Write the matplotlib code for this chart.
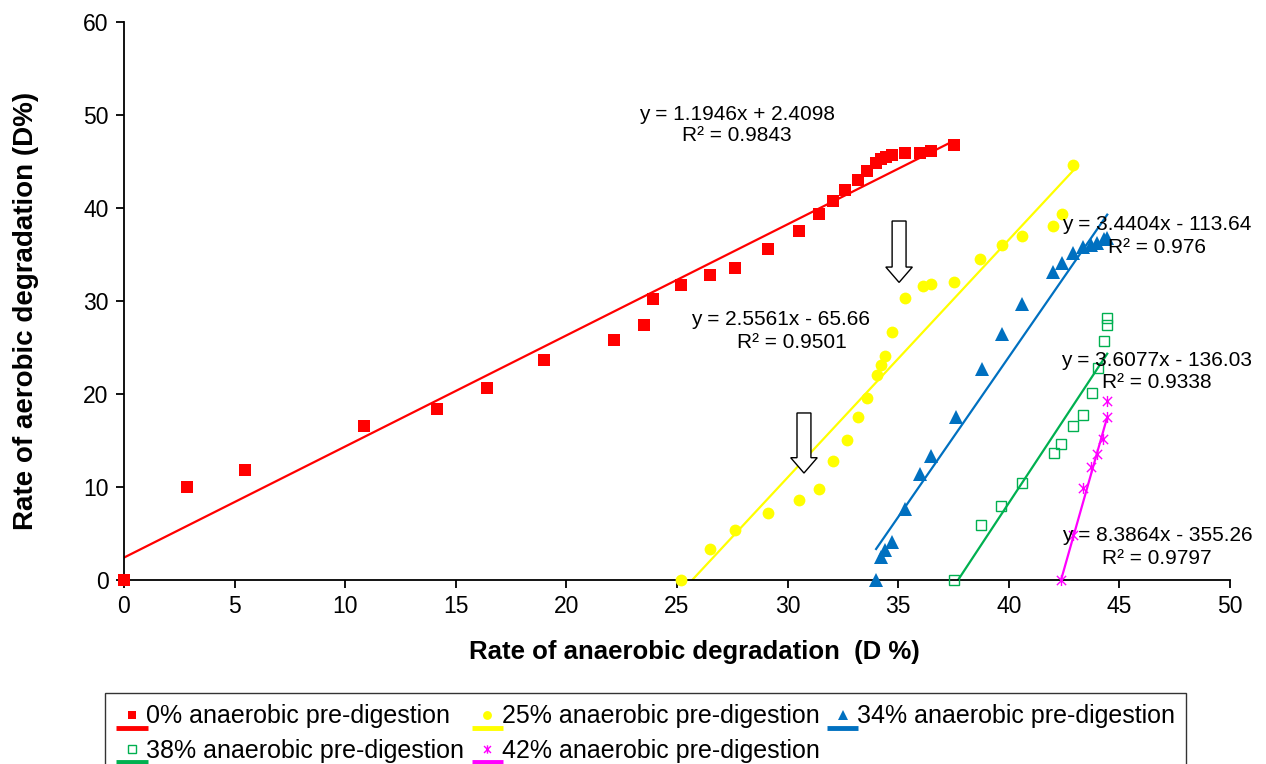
import matplotlib
matplotlib.use("Agg")
import matplotlib.pyplot as plt
import numpy as np
from matplotlib.lines import Line2D
from matplotlib.legend_handler import HandlerBase
from matplotlib.patches import FancyArrow
from matplotlib.path import Path

plt.rcParams['font.family'] = ['Liberation Sans', 'DejaVu Sans']

# ---------------- data ----------------
labels = ["0% anaerobic pre-digestion", "25% anaerobic pre-digestion",
          "34% anaerobic pre-digestion", "38% anaerobic pre-digestion",
          "42% anaerobic pre-digestion"]

x0 = [0, 2.85, 5.47, 10.85, 14.15, 16.4, 19.0, 22.15, 23.5, 23.9, 25.2, 26.5, 27.6,
      29.1, 30.5, 31.4, 32.05, 32.6, 33.2, 33.6, 34.0, 34.2, 34.45, 34.7, 35.3, 36.0,
      36.5, 37.5]
y0 = [0, 10.0, 11.8, 16.6, 18.4, 20.6, 23.7, 25.8, 27.4, 30.2, 31.7, 32.8, 33.5,
      35.6, 37.5, 39.4, 40.8, 41.9, 43.0, 44.0, 44.8, 45.3, 45.5, 45.7, 45.9, 45.9,
      46.1, 46.8]

x25 = [25.2, 26.5, 27.6, 29.1, 30.5, 31.4, 32.05, 32.7, 33.2, 33.6, 34.05, 34.2, 34.4,
       34.7, 35.3, 36.1, 36.5, 37.5, 38.7, 39.7, 40.6, 42.0, 42.4, 42.9]
y25 = [0, 3.3, 5.4, 7.2, 8.6, 9.8, 12.8, 15.1, 17.5, 19.6, 22.0, 23.1, 24.1,
       26.7, 30.3, 31.6, 31.8, 32.0, 34.5, 36.0, 37.0, 38.1, 39.4, 44.6]

x34 = [34.0, 34.2, 34.4, 34.7, 35.3, 36.0, 36.5, 37.6, 38.8, 39.7, 40.6, 42.0, 42.4,
       42.9, 43.35, 43.7, 44.0, 44.3, 44.45]
y34 = [0, 2.5, 3.2, 4.1, 7.6, 11.4, 13.3, 17.5, 22.7, 26.5, 29.7, 33.1, 34.1,
       35.2, 35.8, 36.0, 36.2, 36.7, 36.8]

x38 = [37.5, 38.75, 39.65, 40.6, 42.05, 42.35, 42.9, 43.35, 43.75, 44.05, 44.3, 44.45, 44.45]
y38 = [0, 5.9, 8.0, 10.4, 13.7, 14.6, 16.6, 17.7, 20.1, 22.8, 25.7, 27.4, 28.2]

x42 = [42.35, 42.9, 43.35, 43.7, 44.0, 44.25, 44.45, 44.45]
y42 = [0, 4.8, 9.9, 12.2, 13.5, 15.2, 17.5, 19.3]

slopes = [1.1946, 2.5561, 3.4404, 3.6077, 8.3864]
intercepts = [2.4098, -65.66, -113.64, -136.03, -355.26]
r2 = ["0.9843", "0.9501", "0.976", "0.9338", "0.9797"]
eq_texts = ["y = 1.1946x + 2.4098", "y = 2.5561x - 65.66", "y = 3.4404x - 113.64",
            "y = 3.6077x - 136.03", "y = 8.3864x - 355.26"]

xs = [x0, x25, x34, x38, x42]
ys = [y0, y25, y34, y38, y42]

# ---------------- style ----------------
colors = ["#FF0000", "#FFFF00", "#0070C0", "#00B050", "#FF00FF"]
star = Path([(-1, -1), (1, 1), (-1, 1), (1, -1), (0, -1.2), (0, 1.2)],
            [Path.MOVETO, Path.LINETO, Path.MOVETO, Path.LINETO, Path.MOVETO, Path.LINETO])
markers = ["s", "o", "^", "s", star]
msizes = [8.5, 8.5, 9.5, 7.5, 8]
mfaces = ["#FF0000", "#FFFF00", "#0070C0", "none", "#FF00FF"]
medges = ["#FF0000", "#FFFF00", "#0070C0", "#00B050", "#FF00FF"]
mews = [0, 0, 0, 1.0, 1.0]

# equation label positions (data coords, centers)
eq_pos = [(27.7, 50.1), (29.66, 28.06), (46.7, 38.2), (46.7, 23.6), (46.7, 4.8)]
r2_pos = [(27.7, 47.8), (30.2, 25.5), (46.7, 35.7), (46.7, 21.2), (46.7, 2.3)]

fig = plt.figure(figsize=(12.66, 7.64), dpi=100)
ax = fig.add_axes([124/1266, 1-580/764, (1230-124)/1266, (580-22)/764])

for i in range(5):
    ax.plot(xs[i], ys[i], linestyle="none", marker=markers[i], ms=msizes[i],
            mfc=mfaces[i], mec=medges[i], mew=mews[i], zorder=3, clip_on=False)
    xl = np.array([min(xs[i]), max(xs[i])])
    ax.plot(xl, slopes[i]*xl + intercepts[i], color=colors[i], lw=1.6, zorder=2)
    ax.text(*eq_pos[i], eq_texts[i], ha="center", va="center", fontsize=15, clip_on=False, zorder=4)
    ax.text(*r2_pos[i], "R² = " + r2[i], ha="center", va="center", fontsize=15, clip_on=False, zorder=4)

# hollow arrows
for (xa, ytop, ytip) in [(35.04, 38.6, 32.0), (30.74, 17.96, 11.5)]:
    ax.add_patch(FancyArrow(xa, ytop, 0, ytip - ytop, width=0.63, head_width=1.2,
                            head_length=1.65, length_includes_head=True,
                            facecolor="white", edgecolor="black", lw=1.0, zorder=5))

ax.set_xlim(0, 50)
ax.set_ylim(0, 60)
ax.set_xticks(np.arange(0, 51, 5))
ax.set_yticks(np.arange(0, 61, 10))
for s in ["top", "right"]:
    ax.spines[s].set_visible(False)
for s in ["left", "bottom"]:
    ax.spines[s].set_linewidth(1.3)
ax.tick_params(axis="both", direction="out", length=6, width=1.3, labelsize=16.5, pad=5)

ax.set_xlabel("Rate of anaerobic degradation  (D %)", fontsize=18.5, fontweight="bold")
ax.xaxis.set_label_coords(0.516, -0.108)
ax.set_ylabel("Rate of aerobic degradation (D%)", fontsize=20, fontweight="bold")
ax.yaxis.set_label_coords(-0.077, 0.482)


class MarkerOverLine(HandlerBase):
    def create_artists(self, legend, orig_handle, xdescent, ydescent, width, height, fontsize, trans):
        i = orig_handle
        ln = Line2D([-xdescent, -xdescent + width], [-ydescent - 0.25*height]*2,
                    color=colors[i], lw=3.5, solid_capstyle="butt")
        mk = Line2D([-xdescent + width/2], [-ydescent + 0.5*height], linestyle="none",
                    marker=markers[i], ms=msizes[i]*0.75, mfc=mfaces[i], mec=medges[i],
                    mew=mews[i])
        ln.set_transform(trans)
        mk.set_transform(trans)
        return [ln, mk]


order = [0, 3, 1, 4, 2]   # row-wise filling for ncol=3
leg = fig.legend([order[k] for k in range(5)], [labels[o] for o in order],
                 handler_map={int: MarkerOverLine()},
                 loc="upper left", bbox_to_anchor=(105/1266, 1-693/764), ncol=3,
                 fontsize=18, frameon=True, fancybox=False, edgecolor="black",
                 handlelength=1.25, handletextpad=-0.05, columnspacing=0.3,
                 borderpad=0.45, labelspacing=0.43, borderaxespad=0)
leg.get_frame().set_linewidth(1.0)

fig.savefig("out.png", dpi=100)
